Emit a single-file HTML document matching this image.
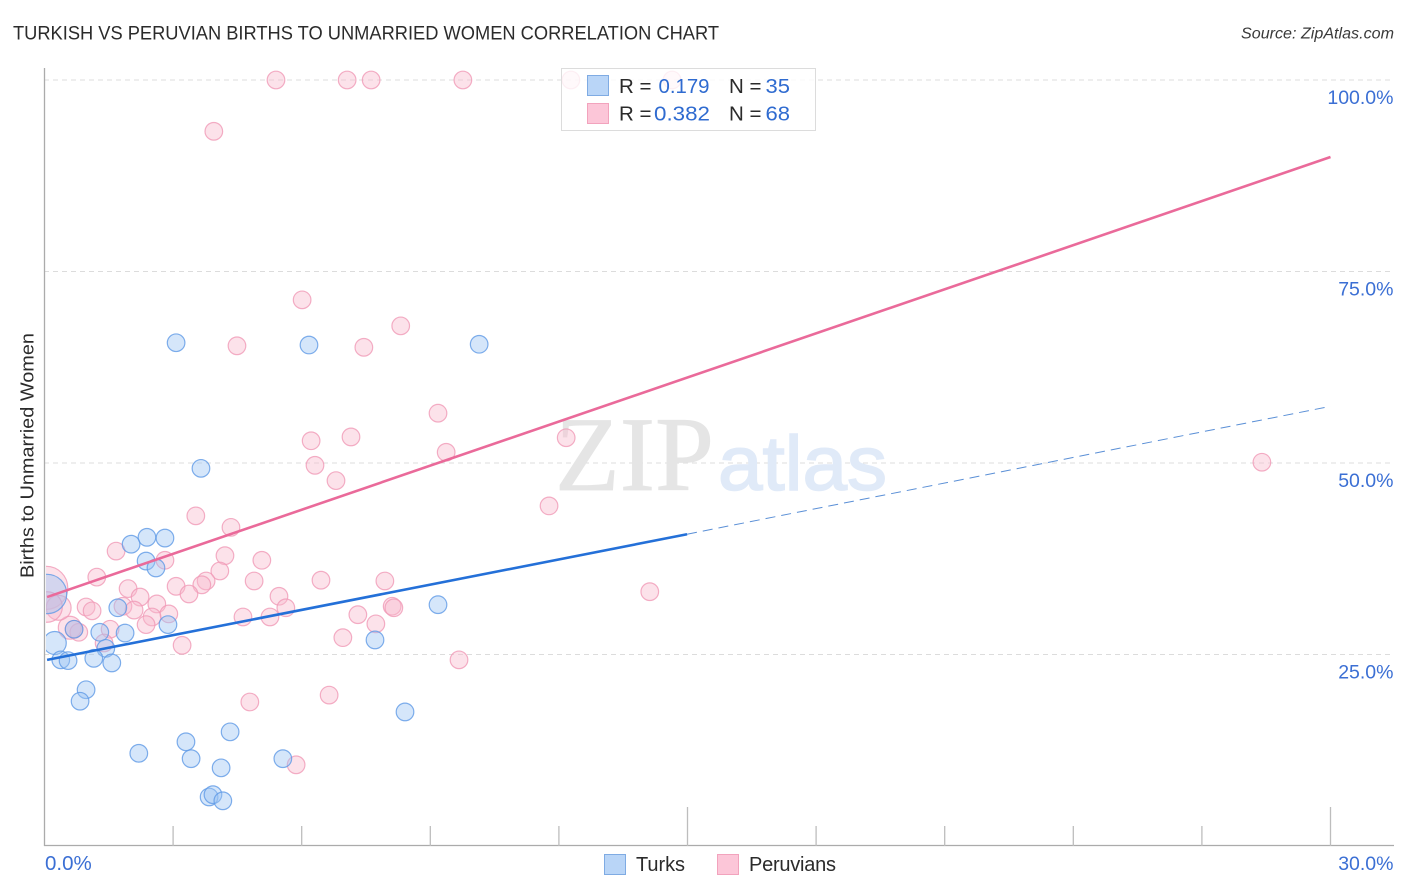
<!DOCTYPE html>
<html lang="en">
<head>
<meta charset="utf-8">
<title>Turkish vs Peruvian Births to Unmarried Women Correlation Chart</title>
<style>
html,body{margin:0;padding:0;background:#fff;width:1406px;height:892px;overflow:hidden}
svg{display:block;font-family:"Liberation Sans",sans-serif}
</style>
</head>
<body>
<svg id="chart" width="1406" height="892" viewBox="0 0 1406 892" xmlns="http://www.w3.org/2000/svg">
  <defs><clipPath id="plot-clip"><rect x="46" y="60" width="1348" height="785"/></clipPath></defs>
  <text x="13" y="39.5" font-size="19" fill="#2b2b2b" textLength="706" lengthAdjust="spacingAndGlyphs">TURKISH VS PERUVIAN BIRTHS TO UNMARRIED WOMEN CORRELATION CHART</text>
  <text x="1394" y="38.5" font-size="15.5" font-style="italic" fill="#3a3a3a" text-anchor="end" textLength="153" lengthAdjust="spacingAndGlyphs">Source: ZipAtlas.com</text>
  <g id="grid"></g>
  <g>
    <text x="555" y="490" font-family="'Liberation Serif',serif" font-size="106" fill="#e5e5e5" stroke="#e5e5e5" stroke-width="0.8" textLength="159" lengthAdjust="spacingAndGlyphs">ZIP</text>
    <text x="718" y="490" font-size="77" fill="#e0eaf8" stroke="#e0eaf8" stroke-width="1.6" textLength="169" lengthAdjust="spacingAndGlyphs">atlas</text>
  </g>
  <g id="axes"></g>
  <g id="peruvian-points" clip-path="url(#plot-clip)"></g>
  <g id="turk-points" clip-path="url(#plot-clip)"></g>
  <g id="trends"></g>
  <g id="tick-labels"></g>
  <text transform="translate(33.5,578) rotate(-90)" font-size="18.5" fill="#2b2b2b" textLength="245" lengthAdjust="spacingAndGlyphs">Births to Unmarried Women</text>

  <g>
    <rect x="561.5" y="68.5" width="254" height="62" fill="#fff" fill-opacity="0.8" stroke="#dcdcdc" stroke-width="1"/>
    <rect x="587.5" y="75.5" width="21" height="20" fill="#b9d5f7" stroke="#7fabe3" stroke-width="1"/>
    <rect x="587.5" y="103.5" width="21" height="20" fill="#fcc6d8" stroke="#f2a3bd" stroke-width="1"/>
    <g font-size="20.5" fill="#2b2b2b">
      <text x="619" y="93" xml:space="preserve">R =</text>
      <text x="619" y="120.5">R =</text>
      <text x="729" y="93">N =</text>
      <text x="729" y="120.5">N =</text>
    </g>
    <g font-size="20.5" fill="#2f6bd0">
      <text x="658.5" y="93" textLength="51" lengthAdjust="spacingAndGlyphs">0.179</text>
      <text x="654" y="120.5" textLength="56" lengthAdjust="spacingAndGlyphs">0.382</text>
      <text x="765.5" y="93" textLength="24.5" lengthAdjust="spacingAndGlyphs">35</text>
      <text x="765.5" y="120.5" textLength="24.5" lengthAdjust="spacingAndGlyphs">68</text>
    </g>
  </g>

  <g>
    <rect x="604.5" y="854.5" width="21" height="20" fill="#b9d5f7" stroke="#7fabe3" stroke-width="1"/>
    <text x="636" y="871" font-size="20" fill="#2b2b2b" textLength="49">Turks</text>
    <rect x="717.5" y="854.5" width="21" height="20" fill="#fcc6d8" stroke="#f2a3bd" stroke-width="1"/>
    <text x="749" y="871" font-size="20" fill="#2b2b2b" textLength="87">Peruvians</text>
  </g>
</svg>
<script>
const xTickValues = [0,3,6,9,12,15,18,21,24,27,30];
const xMajorTicks = [15,30];
const xTickLabels = ["0.0%","30.0%"];
const yGridValues = [25,50,75,100];
const yTickLabels = ["25.0%","50.0%","75.0%","100.0%"];

const turkX = [3.07,6.17,10.14,3.65,2.39,2.81,2.02,2.37,2.60,9.18,1.71,2.88,1.88,1.29,0.69,7.71,1.43,0.24,0.38,0.55,1.15,1.57,0.97,0.83,8.41,2.20,3.30,3.42,4.33,5.56,4.12,3.84,3.93,4.16,0.06];
const turkY = [65.7,65.4,65.5,49.3,40.3,40.2,39.4,37.2,36.3,31.5,31.1,28.9,27.8,27.9,28.3,26.9,25.8,26.5,24.3,24.2,24.5,23.9,20.4,18.9,17.5,12.1,13.6,11.4,14.9,11.4,10.2,6.4,6.7,5.9,32.9];
const turkWeight = [1,1,1,1,1,1,1,1,1,1,1,1,1,1,1,1,1,1.7,1,1,1,1,1,1,1,1,1,1,1,1,1,1,1,1,5];

const peruX = [5.40,7.06,7.62,9.76,12.28,14.64,3.95,6.01,8.31,4.49,7.45,9.18,7.15,6.22,12.17,9.37,6.31,28.40,6.80,11.77,3.53,4.35,1.67,4.21,2.81,5.07,4.09,1.22,6.45,4.89,7.94,3.77,3.67,3.07,1.95,3.37,14.12,2.23,5.47,2.62,1.83,2.09,0.97,1.11,8.11,8.15,5.63,2.90,2.51,7.31,4.63,5.26,2.37,7.73,1.53,0.59,0.80,6.96,1.39,3.21,9.67,6.64,4.79,5.87,0.04,0.33,0.06,0.69];
const peruY = [100,100,100,100,100,100,93.3,71.3,67.9,65.3,65.1,56.5,53.4,52.9,53.3,51.4,49.7,50.1,47.7,44.4,43.1,41.6,38.5,37.9,37.3,37.3,35.9,35.1,34.7,34.6,34.6,34.6,34.1,33.9,33.6,32.9,33.2,32.5,32.6,31.6,31.3,30.8,31.2,30.7,31.3,31.1,31.1,30.3,29.9,30.2,29.9,29.9,28.9,29.0,28.3,28.5,27.9,27.2,26.5,26.2,24.3,19.7,18.8,10.6,33.7,31.1,31.2,28.3];
const peruWeight = [1,1,1,1,1,1,1,1,1,1,1,1,1,1,1,1,1,1,1,1,1,1,1,1,1,1,1,1,1,1,1,1,1,1,1,1,1,1,1,1,1,1,1,1,1,1,1,1,1,1,1,1,1,1,1,1.7,1,1,1,1,1,1,1,1,6,2,3,1];

const turkTrendX = [0.06,14.99];
const turkTrendY = [24.3,40.7];
const turkProjectionX = [14.99,30];
const turkProjectionY = [40.7,57.4];
const peruTrendX = [0.06,30];
const peruTrendY = [32.5,89.95];

const NS = "http://www.w3.org/2000/svg";
function xPos(v){ return 44.5 + v * (1286 / 30); }
function yPos(v){ return 846 - v * 7.66; }
function make(tag, attrs, parent){
  const el = document.createElementNS(NS, tag);
  for (const k in attrs) el.setAttribute(k, attrs[k]);
  parent.appendChild(el);
  return el;
}

const grid = document.getElementById('grid');
yGridValues.forEach(function(v){
  const line = make('line', {x1:44, x2:1393, y1:yPos(v), y2:yPos(v), stroke:'#dcdcdc', 'stroke-width':1, 'stroke-dasharray':'5 4'}, grid);
  
  
});

const axes = document.getElementById('axes');
const yAxis = make('line', {x1:44.5, x2:44.5, y1:68, y2:846, stroke:'#ababab', 'stroke-width':1.3}, axes);


const xAxis = make('line', {x1:44, x2:1394, y1:845.5, y2:845.5, stroke:'#ababab', 'stroke-width':1.3}, axes);


xTickValues.slice(1).forEach(function(v){
  const top = xMajorTicks.includes(v) ? 807 : 826;
  const tick = make('line', {x1:xPos(v), x2:xPos(v), y1:top, y2:846, stroke:'#bdbdbd', 'stroke-width':1.3}, axes);
  
  
});

function drawSeries(groupId, xs, ys, weights, fill, stroke, name){
  const group = document.getElementById(groupId);
  xs.forEach(function(x, i){
    const c = make('circle', {cx:xPos(x), cy:yPos(ys[i]), r:8.8*Math.sqrt(weights[i]), fill:fill, 'fill-opacity':0.42, stroke:stroke, 'stroke-opacity':0.8, 'stroke-width':1.2}, group);
    
    
  });
}
drawSeries('peruvian-points', peruX, peruY, peruWeight, '#f9b9cd', '#f09ab6', 'peruvians-point');
drawSeries('turk-points', turkX, turkY, turkWeight, '#9cc3f3', '#5f9ae6', 'turks-point');

const trends = document.getElementById('trends');
const peruLine = make('line', {x1:xPos(peruTrendX[0]), y1:yPos(peruTrendY[0]), x2:xPos(peruTrendX[1]), y2:yPos(peruTrendY[1]), stroke:'#ea6a9a', 'stroke-width':2.6}, trends);


const turkLine = make('line', {x1:xPos(turkTrendX[0]), y1:yPos(turkTrendY[0]), x2:xPos(turkTrendX[1]), y2:yPos(turkTrendY[1]), stroke:'#2470d8', 'stroke-width':2.6}, trends);


const turkDash = make('line', {x1:xPos(turkProjectionX[0]), y1:yPos(turkProjectionY[0]), x2:xPos(turkProjectionX[1]), y2:yPos(turkProjectionY[1]), stroke:'#5a8fd6', 'stroke-width':1, 'stroke-dasharray':'10 6'}, trends);



const labels = document.getElementById('tick-labels');
yGridValues.forEach(function(v, i){
  const t = make('text', {x:1393.5, y:yPos(v)+24, 'text-anchor':'end', 'font-size':19.5, fill:'#3b6fd4'}, labels);
  t.textContent = yTickLabels[i];
  
  
});
const x0 = make('text', {x:45, y:870, 'font-size':20.5, fill:'#3b6fd4'}, labels);
x0.textContent = xTickLabels[0];


const x1 = make('text', {x:1393.5, y:870, 'text-anchor':'end', 'font-size':19.5, fill:'#3b6fd4'}, labels);
x1.textContent = xTickLabels[1];


</script>
</body>
</html>
